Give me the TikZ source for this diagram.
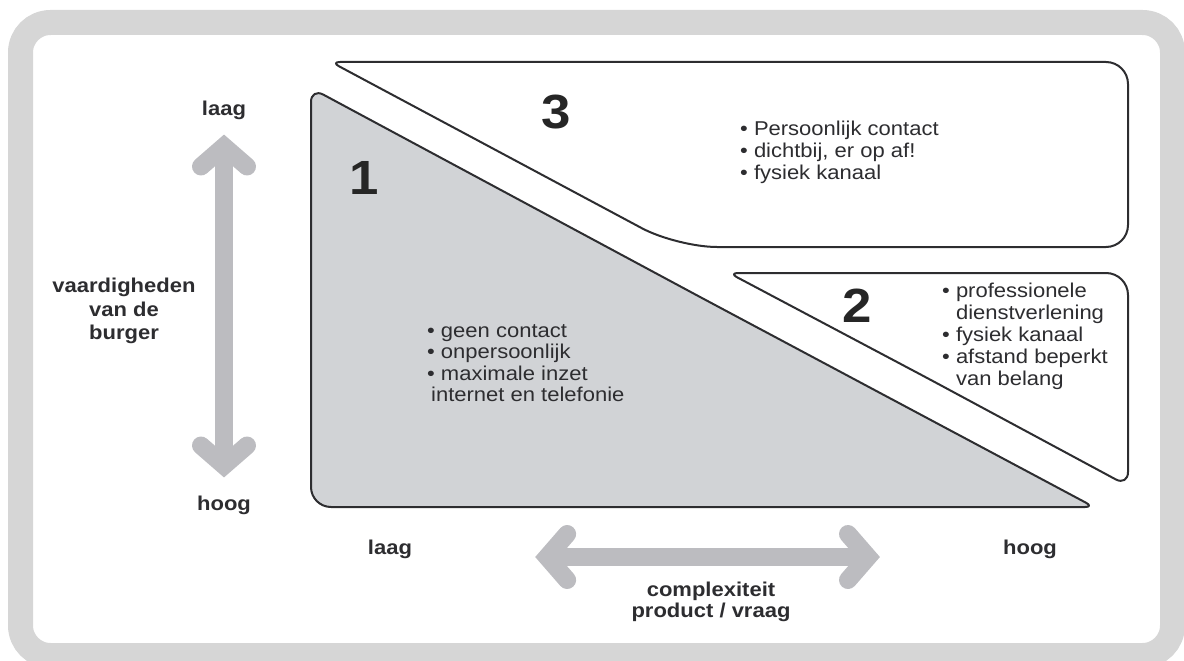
\documentclass[tikz,border=0pt]{standalone}
\usepackage{fontspec}
\setmainfont{Liberation Sans}[FakeStretch=1.1]
\usetikzlibrary{arrows.meta}

\definecolor{kadergrijs}{RGB}{214,214,214}
\definecolor{vlakgrijs}{RGB}{209,211,214}
\definecolor{pijlgrijs}{RGB}{188,188,192}
\definecolor{inkt}{RGB}{45,45,48}

\tikzset{
  vlak/.style={draw=inkt,line width=2pt,line join=round},
  barb/.tip={Straight Barb[length=20pt,width=46pt,line cap=round,line join=miter]},
  pijl/.style={draw=pijlgrijs,line width=18pt,barb-barb},
  tekst/.style={font=\fontsize{20}{23.5}\selectfont\bfseries,text=inkt,align=center,inner sep=0pt},
  lijst/.style={font=\fontsize{20}{22}\selectfont,text=inkt,align=left,inner sep=0pt,anchor=north west},
  nummer/.style={font=\fontsize{48}{48}\selectfont\bfseries,text=black!85,inner sep=0pt}
}

\begin{document}
\begin{tikzpicture}[x=1pt,y=-1pt]
  \useasboundingbox (0,0) rectangle (1184,661);
  \draw[kadergrijs,line width=25pt,rounded corners=30pt] (20.5,22.5) rectangle (1172.5,655.5);

  % de drie vlakken, elke hoek met een eigen afronding
  \draw[vlak,fill=vlakgrijs] (311,300)
    [rounded corners=14pt] -- (311,88) -- (701,297.5)
    [rounded corners=9pt] -- (1094,507) -- (700,507)
    [rounded corners=20pt] -- (311,507) -- cycle;
  \draw[vlak,fill=white] (700,62)
    [rounded corners=22pt] -- (1128,62) -- (1128,150) -- (1128,247) -- (900,247)
    [rounded corners=40pt] -- (677,247) -- (505,155)
    [rounded corners=9pt] -- (331,62) -- cycle;
  \draw[vlak,fill=white] (900,273)
    [rounded corners=22pt] -- (1128,273) -- (1128,380)
    [rounded corners=14pt] -- (1128,486) -- (930,379.5)
    [rounded corners=9pt] -- (729,273) -- cycle;

  \node[nummer] (n1) at (364,178) {1};
  \node[nummer] (n3) at (556,112) {3};
  \node[nummer] (n2) at (857,306) {2};

  \node[lijst] (l3) at (740,121) {• Persoonlijk contact\\• dichtbij, er op af!\\• fysiek kanaal};
  \node[lijst] (l2) at (942,283) {• professionele\\\phantom{• }dienstverlening\\• fysiek kanaal\\• afstand beperkt\\\phantom{• }van belang};
  \node[lijst,font=\fontsize{20}{21.5}\selectfont] (l1) at (427,324) {• geen contact\\• onpersoonlijk\\• maximale inzet\\\hspace*{4pt}internet en telefonie};

  % assen
  \node[tekst] (ylaag) at (224,110) {laag};
  \node[tekst] (yhoog) at (224,505) {hoog};
  \node[tekst] (yas) at (124,311) {vaardigheden\\van de\\burger};
  \node[tekst] (xlaag) at (390,549) {laag};
  \node[tekst] (xhoog) at (1030,549) {hoog};
  \node[tekst,font=\fontsize{20}{21}\selectfont\bfseries] (xas) at (711,602) {complexiteit\\product / vraag};

  \draw[pijl,shorten <=15pt,shorten >=18pt] (ylaag) -- (yhoog);
  \draw[pijl,shorten <=123pt,shorten >=123pt] ([yshift=-8pt]xlaag.east) -- ([yshift=-8pt]xhoog.west);
\end{tikzpicture}
\end{document}
